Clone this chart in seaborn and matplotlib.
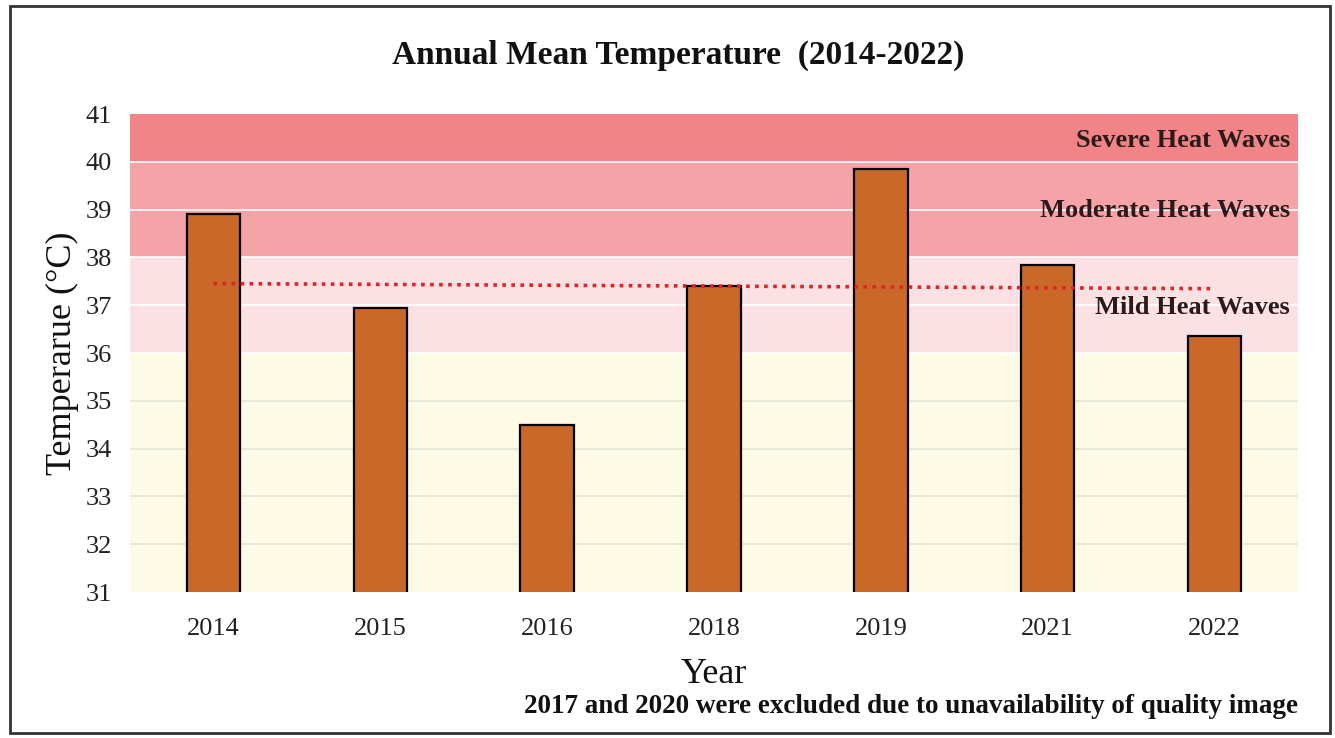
import numpy as np
import pandas as pd
import matplotlib
matplotlib.use("Agg")
import matplotlib.pyplot as plt
from matplotlib.patches import Rectangle
import seaborn as sns

# Annual mean temperature per year (2017 and 2020 missing)
years = ["2014", "2015", "2016", "2018", "2019", "2021", "2022"]
temps = [38.9, 36.95, 34.5, 37.4, 39.85, 37.85, 36.35]

# Heat-wave classification bands (lower, upper, label)
band_edges = [31, 36, 38, 40, 41]
band_colors = ["#fdfbe6", "#fce1e4", "#f5a3a6", "#f08486"]
band_labels = ["Mild Heat Waves", "Moderate Heat Waves", "Severe Heat Waves"]
band_label_y = [36.96, 38.99, 40.45]

y_ticks = list(range(31, 42))

sns.set_theme(style="white")
plt.rcParams["font.family"] = ["Liberation Serif", "DejaVu Serif"]

fig = plt.figure(figsize=(13.35, 7.38), dpi=100)
ax = fig.add_axes([0.0974, 0.1978, 0.8749, 0.6477])

# background bands
for lo, hi, c in zip(band_edges[:-1], band_edges[1:], band_colors):
    ax.axhspan(lo, hi, color=c, zorder=0, lw=0)

# horizontal gridlines
for t in y_ticks[1:-1]:
    ax.axhline(t, color="#ffffff" if t >= 36 else "#e6e4d6", lw=1.2, zorder=0.5)

df = pd.DataFrame({"Year": years, "Temp": temps})
sns.barplot(data=df, x="Year", y="Temp", color="#ca682a", saturation=1,
            width=0.32, edgecolor="black", linewidth=1.6, ax=ax, zorder=2)

# linear trend across the plotted years
xi = np.arange(len(years))
coef = np.polyfit(xi, temps, 1)
ax.plot(xi, np.polyval(coef, xi), color="#e02424", ls=(0, (1, 1.5)), lw=2.6, zorder=3)

ax.set_ylim(31, 41)
ax.set_xlim(-0.5, len(years) - 0.5)
ax.set_yticks(y_ticks)
ax.tick_params(axis="both", length=0, labelsize=19, colors="#222222")
ax.tick_params(axis="x", pad=19)
ax.tick_params(axis="y", pad=13)
for s in ax.spines.values():
    s.set_visible(False)

ax.set_xlabel("Year", fontsize=26, color="#111111", labelpad=13)
ax.set_ylabel("Temperarue (°C)", fontsize=26, color="#111111", labelpad=5)

for lab, yv in zip(band_labels, band_label_y):
    ax.text(0.993, yv, lab, transform=ax.get_yaxis_transform(), ha="right",
            va="center", fontsize=19, fontweight="bold", color="#2a1a1a", zorder=4)

fig.text(0.508, 0.925, "Annual Mean Temperature  (2014-2022)", ha="center",
         va="center", fontsize=24, fontweight="bold", color="#111111")
fig.text(0.972, 0.043, "2017 and 2020 were excluded due to unavailability of quality image",
         ha="right", va="center", fontsize=19.5, fontweight="bold", color="#111111")

fig.patches.append(Rectangle((0.0075, 0.007), 0.9885, 0.985, transform=fig.transFigure,
                             fill=False, edgecolor="#333333", lw=2))

fig.savefig("out.png", dpi=100)
